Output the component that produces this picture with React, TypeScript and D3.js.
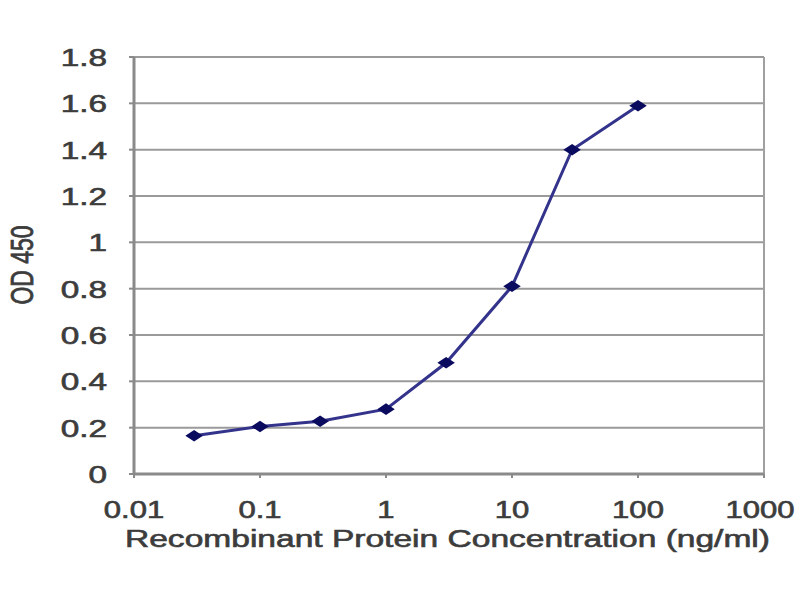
import React, { useEffect, useRef } from 'react';
import * as d3 from 'd3';

const concentrations = [0.03, 0.1, 0.3, 1, 3, 10, 30, 100];
const odValues = [0.165, 0.205, 0.228, 0.28, 0.48, 0.81, 1.4, 1.59];
const xTicks = [0.01, 0.1, 1, 10, 100, 1000];
const yTicks = [0, 0.2, 0.4, 0.6, 0.8, 1, 1.2, 1.4, 1.6, 1.8];
const xTitle = 'Recombinant Protein Concentration (ng/ml)';
const yTitle = 'OD 450';

const App: React.FC = () => {
  const svgRef = useRef<SVGSVGElement>(null);

  useEffect(() => {
    if (!svgRef.current) return;
    const width = 800;
    const height = 600;
    const margin = { top: 57, right: 36, bottom: 126, left: 134 };
    const innerWidth = width - margin.left - margin.right;
    const innerHeight = height - margin.top - margin.bottom;
    const stretch = 1.45;
    const font = 'Arial, "Liberation Sans", sans-serif';
    const textColor = '#3c3c3c';

    const svg = d3.select(svgRef.current);
    svg.selectAll('*').remove();
    svg.attr('width', width).attr('height', height);

    svg.append('rect').attr('width', width).attr('height', height).attr('fill', '#fff');

    const g = svg.append('g').attr('transform', `translate(${margin.left},${margin.top})`);

    const x = d3.scaleLog().domain([0.01, 1000]).range([0, innerWidth]);
    const y = d3.scaleLinear().domain([0, 1.8]).range([innerHeight, 0]);

    // gridlines
    g.selectAll('.grid')
      .data(yTicks)
      .enter()
      .append('line')
      .attr('x1', 0)
      .attr('x2', innerWidth)
      .attr('y1', (d) => y(d))
      .attr('y2', (d) => y(d))
      .attr('stroke', '#9a9a9a')
      .attr('stroke-width', 2);

    // right border
    g.append('line')
      .attr('x1', innerWidth)
      .attr('x2', innerWidth)
      .attr('y1', 0)
      .attr('y2', innerHeight)
      .attr('stroke', '#a0a0a0')
      .attr('stroke-width', 2);

    // y axis line + ticks
    g.append('line')
      .attr('x1', 0)
      .attr('x2', 0)
      .attr('y1', 0)
      .attr('y2', innerHeight)
      .attr('stroke', '#8a8a8a')
      .attr('stroke-width', 3);
    g.selectAll('.ytick')
      .data(yTicks)
      .enter()
      .append('line')
      .attr('x1', -5)
      .attr('x2', 0)
      .attr('y1', (d) => y(d))
      .attr('y2', (d) => y(d))
      .attr('stroke', '#8a8a8a')
      .attr('stroke-width', 2);

    // x axis line + ticks
    g.append('line')
      .attr('x1', 0)
      .attr('x2', innerWidth)
      .attr('y1', innerHeight)
      .attr('y2', innerHeight)
      .attr('stroke', '#8a8a8a')
      .attr('stroke-width', 3);
    g.selectAll('.xtick')
      .data(xTicks)
      .enter()
      .append('line')
      .attr('x1', (d) => x(d))
      .attr('x2', (d) => x(d))
      .attr('y1', innerHeight)
      .attr('y2', innerHeight + 4)
      .attr('stroke', '#8a8a8a')
      .attr('stroke-width', 2);

    const styleText = (sel: d3.Selection<SVGTextElement, any, any, any>) =>
      sel
        .attr('font-family', font)
        .attr('font-size', 23)
        .attr('fill', textColor)
        .attr('stroke', textColor)
        .attr('stroke-width', 0.6);

    // y tick labels
    g.selectAll('.ylabel')
      .data(yTicks)
      .enter()
      .append('text')
      .attr('transform', (d) => `translate(-27,${y(d) + 9}) scale(${stretch},1)`)
      .attr('text-anchor', 'end')
      .call(styleText)
      .text((d) => String(d));

    // x tick labels
    g.selectAll('.xlabel')
      .data(xTicks)
      .enter()
      .append('text')
      .attr('transform', (d) => `translate(${Math.min(x(d), innerWidth - 4)},${innerHeight + 44}) scale(1.35,1)`)
      .attr('text-anchor', 'middle')
      .call(styleText)
      .text((d) => String(d));

    // axis titles
    svg.append('text')
      .attr('x', 125)
      .attr('y', 547)
      .attr('textLength', 645)
      .attr('lengthAdjust', 'spacingAndGlyphs')
      .call(styleText)
      .text(xTitle);

    svg.append('text')
      .attr('transform', `translate(33,265) scale(1.35,1) rotate(-90)`)
      .attr('text-anchor', 'middle')
      .call(styleText)
      .text(yTitle);

    // data line
    const data = concentrations.map((c, i) => ({ c, v: odValues[i] }));
    const line = d3
      .line<{ c: number; v: number }>()
      .x((d) => x(d.c))
      .y((d) => y(d.v));

    g.append('path')
      .datum(data)
      .attr('fill', 'none')
      .attr('stroke', '#33338c')
      .attr('stroke-width', 3)
      .attr('d', line);

    const diamond = d3.symbol().type(d3.symbolDiamond).size(60);
    g.selectAll('.pt')
      .data(data)
      .enter()
      .append('path')
      .attr('d', diamond)
      .attr('transform', (d) => `translate(${x(d.c)},${y(d.v)}) scale(2.1,0.8)`)
      .attr('fill', '#0a0a5e');
  }, []);

  return <svg ref={svgRef} style={{ position: 'absolute', left: 0, top: 0 }} />;
};

export default App;
